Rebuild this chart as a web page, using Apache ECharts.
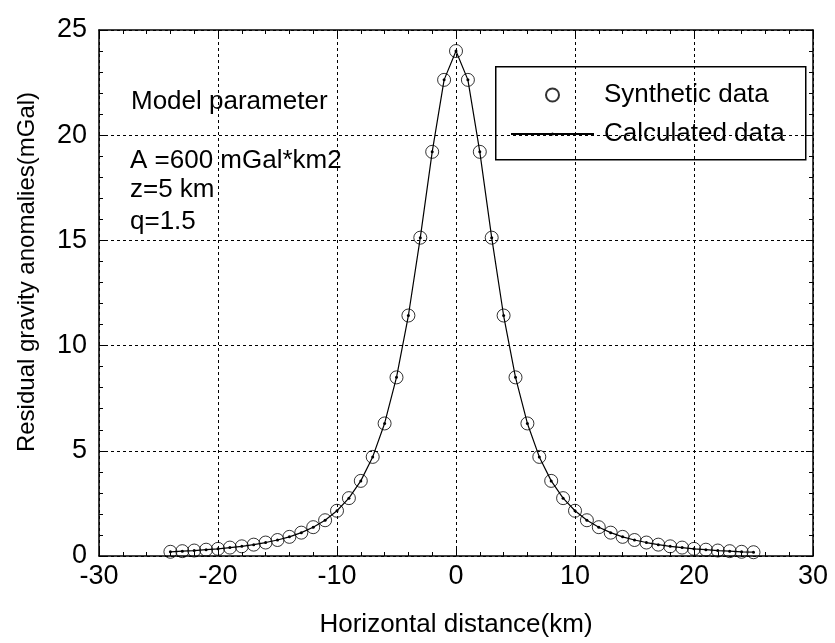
<!DOCTYPE html>
<html>
<head>
<meta charset="utf-8">
<script src="https://cdn.jsdelivr.net/npm/echarts@6/dist/echarts.min.js"></script>
<style>html,body{margin:0;padding:0;background:#fff;}#c{width:835px;height:643px;}</style>
</head>
<body>
<div id="c"></div>
<script>
const xValues = [-24,-23,-22,-21,-20,-19,-18,-17,-16,-15,-14,-13,-12,-11,-10,-9,-8,-7,-6,-5,-4,-3,-2,-1,0,1,2,3,4,5,6,7,8,9,10,11,12,13,14,15,16,17,18,19,20,21,22,23,24,25];
const synthetic = [0.20,0.23,0.26,0.30,0.34,0.40,0.46,0.54,0.64,0.76,0.91,1.11,1.37,1.70,2.15,2.75,3.57,4.71,6.30,8.49,11.43,15.13,19.21,22.63,24.00,22.63,19.21,15.13,11.43,8.49,6.30,4.71,3.57,2.75,2.15,1.70,1.37,1.11,0.91,0.76,0.64,0.54,0.46,0.40,0.34,0.30,0.26,0.23,0.20,0.18];
const calculated = [0.20,0.23,0.26,0.30,0.34,0.40,0.46,0.54,0.64,0.76,0.91,1.11,1.37,1.70,2.15,2.75,3.57,4.71,6.30,8.49,11.43,15.13,19.21,22.63,24.00,22.63,19.21,15.13,11.43,8.49,6.30,4.71,3.57,2.75,2.15,1.70,1.37,1.11,0.91,0.76,0.64,0.54,0.46,0.40,0.34,0.30,0.26,0.23,0.20,0.18];
const seriesNames = ['Synthetic data', 'Calculated data'];
const annotationLines = ['Model parameter', 'A =600 mGal*km2', 'z=5 km', 'q=1.5'];
const xTitle = 'Horizontal distance(km)';
const yTitle = 'Residual gravity anomalies(mGal)';

const FONT = '"Liberation Sans", Arial, sans-serif';
const chart = echarts.init(document.getElementById('c'));
const gridLine = { show: true, lineStyle: { color: '#000', width: 1, type: [3, 3] } };
const tickStyle = { color: '#000', width: 1 };
const mainX = {
  type: 'value', min: -30, max: 30, interval: 10, position: 'bottom',
  name: xTitle, nameLocation: 'middle', nameGap: 56,
  nameTextStyle: { fontFamily: FONT, fontSize: 26, color: '#000' },
  axisLine: { show: true, onZero: false, lineStyle: { color: '#000', width: 1.5 } },
  axisTick: { show: true, inside: true, length: 7, lineStyle: tickStyle },
  minorTick: { show: true, splitNumber: 5, length: 4, lineStyle: tickStyle },
  axisLabel: { fontFamily: FONT, fontSize: 27, color: '#000', margin: 7 },
  splitLine: gridLine
};
const topX = {
  type: 'value', min: -30, max: 30, interval: 10, position: 'top',
  axisLine: { show: true, onZero: false, lineStyle: { color: '#000', width: 1.5 } },
  axisTick: { show: true, inside: true, length: 7, lineStyle: tickStyle },
  minorTick: { show: true, splitNumber: 5, length: 4, lineStyle: tickStyle },
  axisLabel: { show: false }, splitLine: { show: false }
};
const mainY = {
  type: 'value', min: 0, max: 25, interval: 5, position: 'left',
  axisLine: { show: true, onZero: false, lineStyle: { color: '#000', width: 1.5 } },
  axisTick: { show: true, inside: true, length: 7, lineStyle: tickStyle },
  minorTick: { show: true, splitNumber: 5, length: 4, lineStyle: tickStyle },
  axisLabel: { fontFamily: FONT, fontSize: 27, color: '#000', margin: 12 },
  splitLine: gridLine
};
const rightY = {
  type: 'value', min: 0, max: 25, interval: 5, position: 'right',
  axisLine: { show: true, onZero: false, lineStyle: { color: '#000', width: 1.5 } },
  axisTick: { show: true, inside: true, length: 7, lineStyle: tickStyle },
  minorTick: { show: true, splitNumber: 5, length: 4, lineStyle: tickStyle },
  axisLabel: { show: false }, splitLine: { show: false }
};

const annFont = '26px ' + FONT;
chart.setOption({
  animation: false,
  backgroundColor: '#fff',
  grid: { left: 99, right: 22, top: 30, bottom: 80 },
  xAxis: [mainX, topX],
  yAxis: [mainY, rightY],
  legend: [
    { data: [seriesNames[0]], left: 545, top: 82, padding: 0, itemWidth: 13, itemHeight: 13,
      textStyle: { fontFamily: FONT, fontSize: 26, lineHeight: 26, color: '#000', padding: [0, 0, 0, 40] } },
    { data: [seriesNames[1]], left: 510, top: 121, padding: 0, itemWidth: 83, itemHeight: 4,
      textStyle: { fontFamily: FONT, fontSize: 26, lineHeight: 26, color: '#000', padding: [0, 0, 0, 5] } }
  ],
  graphic: [
    { type: 'rect', left: 495, top: 66, shape: { width: 310, height: 93 }, style: { fill: '#fff', stroke: '#000', lineWidth: 1.5 }, z: 0 },
    { type: 'text', left: 131, top: 89, style: { text: annotationLines[0], font: annFont, fill: '#000' } },
    { type: 'text', left: 130, top: 148, style: { text: annotationLines[1], font: annFont, fill: '#000' } },
    { type: 'text', left: 130, top: 177, style: { text: annotationLines[2], font: annFont, fill: '#000' } },
    { type: 'text', left: 130, top: 209, style: { text: annotationLines[3], font: annFont, fill: '#000' } },
    { type: 'text', x: 27, y: 272, rotation: Math.PI / 2,
      style: { text: yTitle, font: '24px ' + FONT, fill: '#000', align: 'center', verticalAlign: 'middle' } }
  ],
  series: [
    {
      name: seriesNames[1], type: 'line', z: 3,
      data: xValues.map((x, i) => [x, calculated[i]]),
      symbol: 'circle', symbolSize: 3, showSymbol: true,
      itemStyle: { color: '#000' },
      lineStyle: { color: '#000', width: 1.2 }
    },
    {
      name: seriesNames[0], type: 'scatter', z: 4,
      data: xValues.map((x, i) => [x, synthetic[i]]),
      symbol: 'circle', symbolSize: 13,
      itemStyle: { color: 'rgba(0,0,0,0)', borderColor: '#000', borderWidth: 1 }
    }
  ]
});
</script>
</body>
</html>
